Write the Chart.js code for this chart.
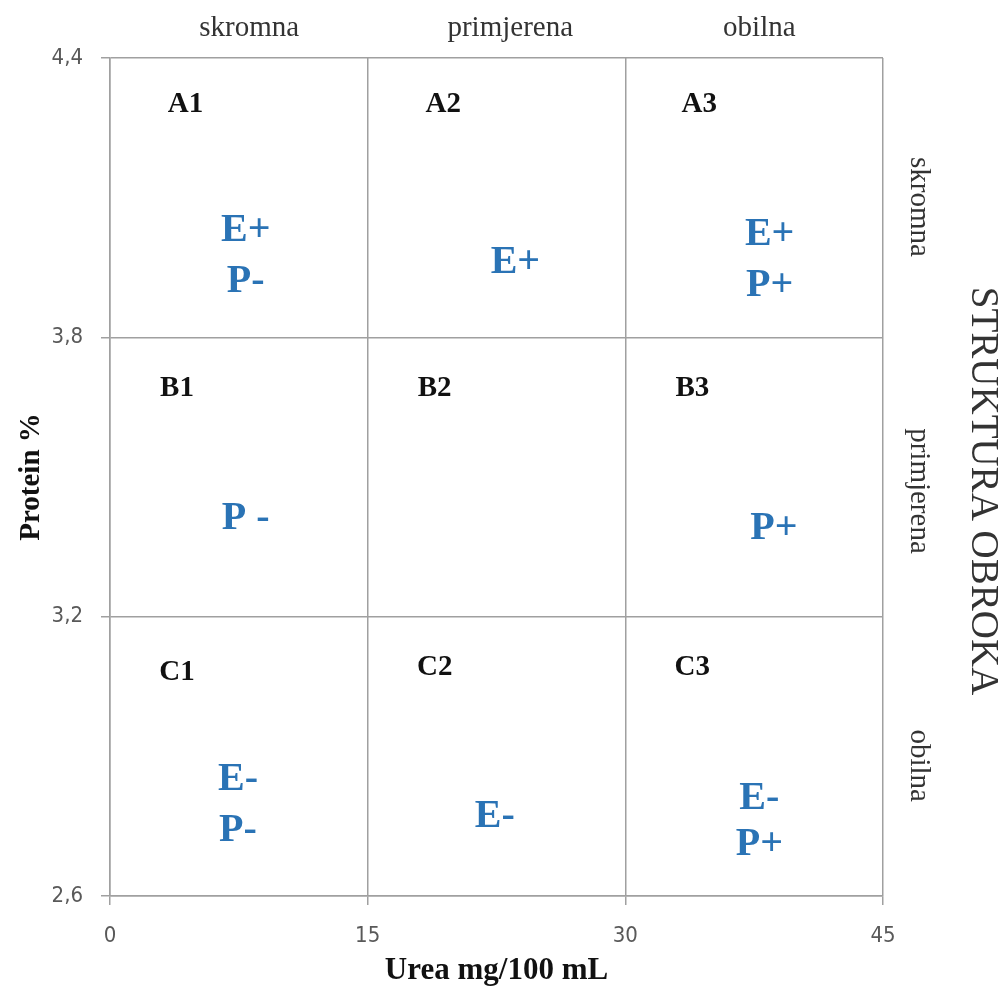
<!DOCTYPE html>
<html>
<head>
<meta charset="utf-8">
<script src="https://cdn.jsdelivr.net/npm/chart.js@4"></script>
<style>
  body { margin: 0; background: #fff; }
  #wrap { width: 1004px; height: 993px; }
</style>
</head>
<body>
<div id="wrap"><canvas id="graph"></canvas></div>
<script>
// axes
const xTicks = [0, 15, 30, 45];
const yTicks = [2.6, 3.2, 3.8, 4.4];

// column / row names (STRUKTURA OBROKA)
const colNames = ["skromna", "primjerena", "obilna"];
const colX = [8.1, 23.3, 37.8];
const rowNames = ["skromna", "primjerena", "obilna"];
const rowY = [4.08, 3.47, 2.88];

// cell codes
const cellNames = ["A1", "A2", "A3", "B1", "B2", "B3", "C1", "C2", "C3"];
const cellX = [4.4, 19.4, 34.3, 3.9, 18.9, 33.9, 3.9, 18.9, 33.9];
const cellY = [4.30, 4.30, 4.30, 3.69, 3.69, 3.69, 3.08, 3.09, 3.09];

// energy / protein marks
const effectNames = ["E+", "P-", "E+", "E+", "P+", "P -", "P+", "E-", "P-", "E-", "E-", "P+"];
const effectX = [7.9, 7.9, 23.6, 38.4, 38.4, 7.9, 38.65, 7.45, 7.45, 22.4, 37.8, 37.8];
const effectY = [4.03, 3.92, 3.96, 4.02, 3.91, 3.41, 3.39, 2.85, 2.74, 2.77, 2.81, 2.71];

const gridColor = "#a0a0a0";
const blue = "#2a73b5";

const toPoints = (xs, ys) => xs.map((x, i) => ({ x: x, y: ys[i] }));

const textLabels = {
  id: "textLabels",
  afterDatasetsDraw(chart) {
    const ctx = chart.ctx;
    const xs = chart.scales.x;
    const ys = chart.scales.y;
    ctx.save();
    ctx.textAlign = "center";
    ctx.textBaseline = "middle";

    // cell codes
    ctx.fillStyle = "#111";
    ctx.font = "bold 29px 'Liberation Serif', serif";
    chart.getDatasetMeta(0).data.forEach((p, i) => {
      ctx.fillText(cellNames[i], p.x, p.y);
    });

    // effects
    ctx.fillStyle = blue;
    ctx.font = "bold 40px 'Liberation Serif', serif";
    chart.getDatasetMeta(1).data.forEach((p, i) => {
      ctx.fillText(effectNames[i], p.x, p.y);
    });

    // top names
    ctx.fillStyle = "#333";
    ctx.font = "29px 'Liberation Serif', serif";
    colNames.forEach((n, i) => {
      ctx.fillText(n, xs.getPixelForValue(colX[i]), 28);
    });

    // right names
    rowNames.forEach((n, i) => {
      ctx.save();
      ctx.translate(919, ys.getPixelForValue(rowY[i]));
      ctx.rotate(Math.PI / 2);
      ctx.fillText(n, 0, 0);
      ctx.restore();
    });

    ctx.font = "39px 'Liberation Serif', serif";
    ctx.save();
    ctx.translate(982, 491);
    ctx.rotate(Math.PI / 2);
    ctx.fillText("STRUKTURA OBROKA", 0, 0);
    ctx.restore();

    ctx.restore();
  }
};

new Chart(document.getElementById("graph"), {
  type: "scatter",
  data: {
    datasets: [
      { label: "cells", data: toPoints(cellX, cellY), pointRadius: 0 },
      { label: "effects", data: toPoints(effectX, effectY), pointRadius: 0 }
    ]
  },
  options: {
    responsive: true,
    maintainAspectRatio: false,
    animation: false,
    events: [],
    layout: { padding: { top: 58, right: 121, left: 0, bottom: 0 } },
    plugins: {
      legend: { display: false },
      tooltip: { enabled: false }
    },
    scales: {
      x: {
        min: 0,
        max: 45,
        afterBuildTicks: s => { s.ticks = xTicks.map(v => ({ value: v })); },
        afterFit: s => { s.height = 97; },
        grid: { color: gridColor, lineWidth: 1.5, tickLength: 9 },
        border: { color: gridColor, width: 1.5 },
        ticks: {
          color: "#595959",
          padding: 18,
          font: { family: "'Liberation Sans Narrow', 'DejaVu Sans Condensed', sans-serif", size: 22 }
        },
        title: {
          display: true,
          text: "Urea mg/100 mL",
          color: "#111",
          padding: { top: 0, bottom: 3 },
          font: { family: "'Liberation Serif', serif", size: 31, weight: "bold" }
        }
      },
      y: {
        min: 2.6,
        max: 4.4,
        afterBuildTicks: s => { s.ticks = yTicks.map(v => ({ value: v })); },
        afterFit: s => { s.width = 110; },
        grid: { color: gridColor, lineWidth: 1.5, tickLength: 9 },
        border: { color: gridColor, width: 1.5 },
        ticks: {
          color: "#595959",
          padding: 18,
          callback: v => v.toFixed(1).replace(".", ","),
          font: { family: "'Liberation Sans Narrow', 'DejaVu Sans Condensed', sans-serif", size: 22 }
        },
        title: {
          display: true,
          text: "Protein %",
          color: "#111",
          padding: { top: 14, bottom: 0 },
          font: { family: "'Liberation Serif', serif", size: 29, weight: "bold" }
        }
      }
    }
  },
  plugins: [textLabels]
});
</script>
</body>
</html>
